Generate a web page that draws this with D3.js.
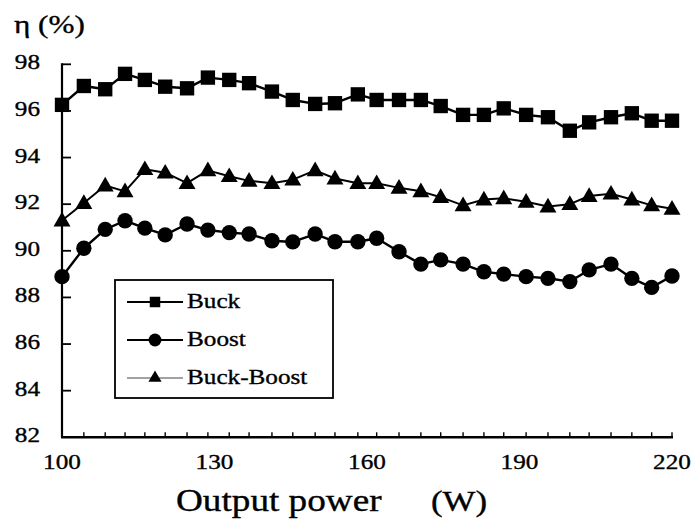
<!DOCTYPE html>
<html>
<head>
<meta charset="utf-8">
<script src="https://cdn.jsdelivr.net/npm/d3@7"></script>
<style>
  html, body { margin: 0; padding: 0; background: #fff; }
  svg { display: block; }
  text { font-family: "Liberation Serif", "Times New Roman", serif; fill: #000; stroke: #000; stroke-width: 0.35px; }
</style>
</head>
<body>
<svg id="chart" width="696" height="523"></svg>
<script>
// Output power (W) of each measurement
const power = [100, 104.3, 108.5, 112.4, 116.3, 120.3, 124.6, 128.7, 132.9, 136.8,
               141.3, 145.4, 149.8, 153.7, 158.2, 161.9, 166.3, 170.6, 174.5, 178.9,
               183.0, 186.9, 191.3, 195.6, 199.9, 203.7, 208.0, 212.1, 216.0, 220];

// Efficiency η (%) per converter topology
const buck = [96.26, 97.07, 96.93, 97.59, 97.33, 97.04, 96.97, 97.43, 97.33, 97.19,
              96.83, 96.47, 96.30, 96.33, 96.71, 96.47, 96.47, 96.47, 96.21, 95.83,
              95.83, 96.11, 95.83, 95.73, 95.15, 95.51, 95.73, 95.90, 95.58, 95.58];
const boost = [88.89, 90.11, 90.92, 91.29, 90.97, 90.68, 91.15, 90.89, 90.78, 90.72,
               90.43, 90.38, 90.72, 90.39, 90.39, 90.54, 89.96, 89.43, 89.61, 89.43,
               89.10, 89.00, 88.89, 88.82, 88.68, 89.18, 89.43, 88.82, 88.43, 88.92];
const buckBoost = [91.30, 92.05, 92.80, 92.55, 93.50, 93.35, 92.90, 93.45, 93.20, 93.00,
                   92.90, 93.05, 93.45, 93.10, 92.90, 92.90, 92.70, 92.55, 92.30, 91.95,
                   92.20, 92.25, 92.10, 91.90, 92.00, 92.35, 92.45, 92.20, 91.95, 91.80];

// Axis tick labels
const xTickLabels = [100, 130, 160, 190, 220];
const yTickLabels = [82, 84, 86, 88, 90, 92, 94, 96, 98];
const seriesNames = ["Buck", "Boost", "Buck-Boost"];

const svg = d3.select("#chart");
const SX = 1.2; // horizontal stretch of the lettering

const x = d3.scaleLinear().domain([100, 220]).range([62, 672]);
const y = d3.scaleLinear().domain([82, 98]).range([437.3, 64.3]);

function stretchedText(g, tx, ty, str, size, anchor) {
  return g.append("text")
    .attr("transform", `translate(${tx},${ty}) scale(${SX},1)`)
    .attr("text-anchor", anchor || "start")
    .attr("font-size", size)
    .text(str);
}

// ---- axes ----
const axes = svg.append("g");
// y axis line with inward major ticks
axes.append("line").attr("x1", x(100)).attr("x2", x(100))
  .attr("y1", y(98) - 1).attr("y2", y(82))
  .attr("stroke", "#000").attr("stroke-width", 2.2);
yTickLabels.forEach(v => {
  if (v > 82) {
    axes.append("line").attr("x1", x(100)).attr("x2", x(100) + 9)
      .attr("y1", y(v)).attr("y2", y(v))
      .attr("stroke", "#000").attr("stroke-width", 1.8);
  }
  stretchedText(axes, 40, y(v) + 5, String(v), 21, "end");
});

// x axis line with small inward ticks at every measured power
axes.append("line").attr("x1", x(100) - 1).attr("x2", x(220) + 1)
  .attr("y1", y(82)).attr("y2", y(82))
  .attr("stroke", "#000").attr("stroke-width", 2.4);
power.forEach(p => {
  axes.append("line").attr("x1", x(p)).attr("x2", x(p))
    .attr("y1", y(82)).attr("y2", y(82) - 5)
    .attr("stroke", "#000").attr("stroke-width", 1.4);
});
xTickLabels.forEach(v => {
  stretchedText(axes, x(v), 469, String(v), 21, "middle");
});

// axis titles
stretchedText(svg, 14, 33, "η (%)", 26, "start");
stretchedText(svg, 176, 511, "Output power", 31, "start");
stretchedText(svg, 431, 511, "(W)", 29, "start");

// ---- series ----
const line = d3.line().x((d, i) => x(power[i])).y(d => y(d));
const plot = svg.append("g");

const series = [
  { name: seriesNames[0], data: buck, type: d3.symbolSquare, size: 206, lw: 2.4, legSize: 110, legLw: 2, dy: 0 },
  { name: seriesNames[1], data: boost, type: d3.symbolCircle, size: 185, lw: 2.4, legSize: 130, legLw: 2, dy: 0 },
  { name: seriesNames[2], data: buckBoost, type: d3.symbolTriangle, size: 125, lw: 2.0, legSize: 75, legLw: 1, dy: 1 }
];

series.forEach(s => {
  plot.append("path").datum(s.data)
    .attr("d", line).attr("fill", "none")
    .attr("stroke", "#000").attr("stroke-width", s.lw)
    .attr("stroke-linejoin", "round");
  plot.selectAll(null).data(s.data).enter().append("path")
    .attr("transform", (d, i) => `translate(${x(power[i])},${y(d) + s.dy})`)
    .attr("d", d3.symbol().type(s.type).size(s.size))
    .attr("fill", "#000");
});

// ---- legend ----
const leg = svg.append("g");
leg.append("rect").attr("x", 115).attr("y", 280).attr("width", 218).attr("height", 118)
  .attr("fill", "#fff").attr("stroke", "#000").attr("stroke-width", 1.8);
const legRows = [302, 340, 378];
series.forEach((s, k) => {
  const ly = legRows[k];
  leg.append("line").attr("x1", 127).attr("x2", 183).attr("y1", ly).attr("y2", ly)
    .attr("stroke", k === 2 ? "#444" : "#000").attr("stroke-width", s.legLw);
  leg.append("path").attr("transform", `translate(155,${ly})`)
    .attr("d", d3.symbol().type(s.type).size(s.legSize))
    .attr("fill", "#000");
  stretchedText(leg, 187, ly + 6, s.name, 21, "start");
});
</script>
</body>
</html>
